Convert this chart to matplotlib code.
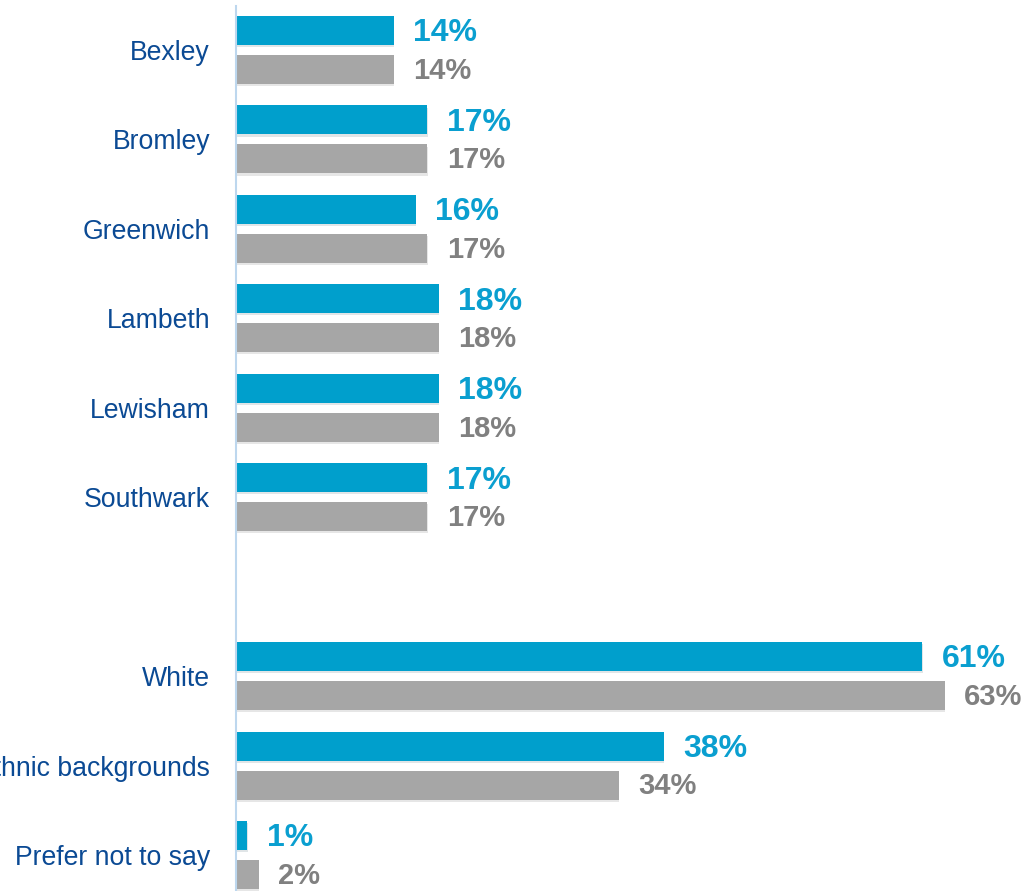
import numpy as np
import matplotlib
matplotlib.use("Agg")
import matplotlib.pyplot as plt
import matplotlib.patheffects as pe

plt.rcParams['font.family'] = ['Liberation Sans', 'DejaVu Sans']

# groups: boroughs, then a blank slot, then ethnicity
categories = ['Bexley', 'Bromley', 'Greenwich', 'Lambeth', 'Lewisham', 'Southwark',
              'White', 'Black, Asian and minority ethnic backgrounds', 'Prefer not to say']
slots = [0, 1, 2, 3, 4, 5, 7, 8, 9]
survey = [14, 17, 16, 18, 18, 17, 61, 38, 1]
population = [14, 17, 17, 18, 18, 17, 63, 34, 2]

blue = '#009fcc'
grey = '#a6a6a6'
blue_txt = '#0a9fd0'
grey_txt = '#808080'
label_col = '#0b4a94'

fig = plt.figure(figsize=(10.33, 8.91), dpi=100)
ax = fig.add_axes([236 / 1033, 0, 1 - 236 / 1033, 1])

h = 0.324
off = 0.218
shadow = [pe.SimplePatchShadow(offset=(0.3, -1.5), alpha=0.12), pe.Normal()]

y = np.array(slots, dtype=float)
ax.barh(y - off, survey, height=h, color=blue, path_effects=shadow)
ax.barh(y + off, population, height=h, color=grey, path_effects=shadow)

for yy, v in zip(y - off, survey):
    ax.annotate(f'{v}%', (v, yy), xytext=(14, -2), textcoords='offset points',
                ha='left', va='center', fontsize=23, fontweight='bold', color=blue_txt)
for yy, v in zip(y + off, population):
    ax.annotate(f'{v}%', (v, yy), xytext=(14, -1), textcoords='offset points',
                ha='left', va='center', fontsize=21, fontweight='bold', color=grey_txt)

ax.set_xlim(0, 797 / 11.25)
ax.set_ylim(9.4025, -0.559)
ax.set_yticks(slots)
ax.set_yticklabels(categories, fontsize=19.2, color=label_col)
ax.tick_params(axis='y', length=0, pad=18.7)
ax.set_xticks([])

for s in ['top', 'right', 'bottom']:
    ax.spines[s].set_visible(False)
ax.spines['left'].set_color('#bdd7ee')
ax.spines['left'].set_linewidth(1.5)
ax.spines['left'].set_bounds(9.4025, -0.49)

fig.savefig('out.png', dpi=100)
